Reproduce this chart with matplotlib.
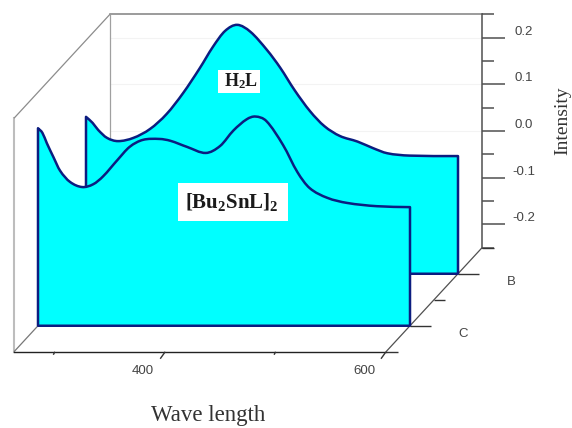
import matplotlib
matplotlib.use("Agg")
import matplotlib.pyplot as plt
from matplotlib.path import Path
from matplotlib.patches import PathPatch
from matplotlib.transforms import Affine2D

plt.rcParams["mathtext.fontset"] = "custom"
plt.rcParams["mathtext.bf"] = "Liberation Serif:bold"
plt.rcParams["mathtext.rm"] = "Liberation Serif"

# ---- data ----
wave_c = [263, 267, 271, 277, 283, 292, 303, 313, 322, 335, 346, 358, 373, 383, 398, 415, 428, 440, 452, 460, 470, 485, 498, 509, 525, 543, 570, 600]
int_c = [.173, .163, .141, .111, .082, .058, .047, .053, .070, .105, .133, .148, .150, .146, .133, .120, .135, .168, .192, .198, .188, .137, .079, .045, .024, .013, .006, .004]
wave_b = [263, 269, 274, 282, 292, 306, 321, 336, 351, 366, 378, 389, 400, 412, 427, 439, 452, 466, 479, 493, 509, 523, 536, 556, 600]
int_b = [.086, .073, .058, .041, .034, .041, .060, .092, .137, .190, .236, .270, .283, .268, .229, .191, .143, .098, .066, .045, .033, .019, .008, .003, .002]
y_major = [-0.2, -0.1, 0.0, 0.1, 0.2]
y_minor = [-0.25, -0.15, -0.05, 0.05, 0.15, 0.25]
x_major = [400, 600]
x_minor = [300, 500]
depth_labels = {1: "B", 3: "C"}
depth_major = [0, 1, 3, 4]
depth_minor = [2]
WMIN, WMAX = 263, 600
IMIN, IMAX = -0.25, 0.25

# ---- figure & scales ----
W, H = 572, 428
fig = plt.figure(figsize=(W / 100, H / 100), dpi=100, facecolor="white")
ax = fig.add_axes([0, 0, 1, 1])
k = 372 / (WMAX - WMIN)
ax.set_xlim(WMIN - 110 / k, WMIN + (W - 110) / k)
ax.set_ylim(-(H - 131) / 467, 131 / 467)
ax.axis("off")

DX, DY = -24, -26


def at(d, px=0, py=0):
    """Data transform for a depth level, with a screen offset (py down)."""
    return ax.transData + Affine2D().translate(DX * d + px, DY * d - py)


def line(x, y, d=0, dx=0, dy=0, **kw):
    """Straight line from a data point to a screen offset of it (dy down)."""
    x0, y0 = ax.transData.transform((x, y))
    x1, y1 = ax.transData.inverted().transform((x0 + dx, y0 - dy))
    ax.plot([x, x1], [y, y1], transform=at(d), solid_capstyle="butt", **kw)


def smooth_path(xs, ys):
    """Hermite curve through the read points, closed down to the baseline."""
    verts = [(xs[0], IMIN), (xs[0], ys[0])]
    codes = [Path.MOVETO, Path.LINETO]
    n = len(xs)
    for i in range(n - 1):
        x0, y0 = xs[max(i - 1, 0)], ys[max(i - 1, 0)]
        x1, y1 = xs[i], ys[i]
        x2, y2 = xs[i + 1], ys[i + 1]
        x3, y3 = xs[min(i + 2, n - 1)], ys[min(i + 2, n - 1)]
        h = x2 - x1
        m1 = (y2 - y0) / (x2 - x0)
        m2 = (y3 - y1) / (x3 - x1)
        verts += [(x1 + h / 3, y1 + m1 * h / 3),
                  (x2 - h / 3, y2 - m2 * h / 3),
                  (x2, y2)]
        codes += [Path.CURVE4] * 3
    verts += [(xs[-1], IMIN), (xs[0], IMIN), (xs[0], IMIN)]
    codes += [Path.LINETO, Path.LINETO, Path.CLOSEPOLY]
    return Path(verts, codes)


GRAY = "#808080"
DARK = "#505050"
TICKTXT = dict(family="Liberation Sans", fontsize=9.5, color="#444444", ha="center", va="center")

# faint gridlines on back wall
for v in [0.2, 0.1, 0.0]:
    ax.plot([WMIN, WMAX], [v, v], color="#f3f3f3", lw=0.8, zorder=1)

# walls
ax.plot([WMIN, WMAX], [IMAX, IMAX], color=GRAY, lw=1.1, zorder=2)
ax.plot([WMIN, WMIN], [IMIN, IMAX], color="#a0a0a0", lw=0.9, zorder=2)
ax.plot([WMIN, WMIN], [IMIN, IMAX], color="#bdbdbd", lw=1.5, zorder=2, transform=at(4))
ax.plot([WMAX, WMAX], [IMIN, IMAX], color=DARK, lw=1.1, zorder=2)

# edges along depth
for w, v, col in [(WMIN, IMAX, "#8c8c8c"), (WMIN, IMIN, "#777777"), (WMAX, IMIN, DARK)]:
    line(w, v, dx=DX * 4, dy=-DY * 4, color=col, lw=0.9, zorder=2)

# series
for d, xs, ys in [(1, wave_b, int_b), (3, wave_c, int_c)]:
    ax.add_patch(PathPatch(smooth_path(xs, ys), facecolor="#00FFFF", edgecolor="#0c1d80",
                           lw=1.8, joinstyle="round", transform=at(d), zorder=3 + d))

# front bottom axis
ax.plot([WMIN, WMAX], [IMIN, IMIN], color="#222222", lw=1.0, transform=at(4), zorder=9)

# x ticks (slanted into the depth direction)
for w in x_major:
    line(w, IMIN, d=4, dx=-5, dy=7, color="#333333", lw=1.0, zorder=9)
    ax.text(w, IMIN, str(w), transform=at(4, -22, 19), **TICKTXT)
for w in x_minor:
    line(w, IMIN, d=4, dx=-1.5, dy=3, color="#333333", lw=1.0, zorder=9)

# y ticks (right side)
for v in y_major:
    line(WMAX, v, dx=23, color=DARK, lw=1.1, zorder=2)
    ax.text(WMAX, v, f"{v:.1f}", transform=at(0, 42, -6), **TICKTXT)
for v in y_minor:
    line(WMAX, v, dx=12, color=DARK, lw=1.1, zorder=2)

# depth ticks
for d in depth_major:
    line(WMAX, IMIN, d=d, dx=12 if d in (0, 4) else 21, color="#333333", lw=1.0, zorder=9)
for d in depth_minor:
    line(WMAX, IMIN, d=d, dx=11, color="#333333", lw=1.0, zorder=9)
for d, lab in depth_labels.items():
    ax.text(WMAX, IMIN, lab, transform=at(d, 53, 8), **TICKTXT)


def fx(p):
    return p / W


def fy(p):
    return 1 - p / H


fig.text(fx(208), fy(416), "Wave length", family="Liberation Serif", fontsize=16.5,
         ha="center", va="center", color="#333333")
fig.text(fx(563), fy(121), "Intensity", family="Liberation Serif", fontsize=14, rotation=90,
         ha="center", va="center", color="#333333")

for cx, cy, bw, bh, s, fs, tx in [(239, 81.5, 42, 23, r"$\mathbf{H_2L}$", 13, 241),
                                  (233, 202, 110, 38, r"$\mathbf{[Bu_2SnL]_2}$", 15, 232)]:
    ax.add_patch(plt.Rectangle((fx(cx - bw / 2), fy(cy + bh / 2)), bw / W, bh / H,
                               transform=fig.transFigure, facecolor="white", edgecolor="none", zorder=10))
    ax.text(fx(tx), fy(cy), s, transform=fig.transFigure, ha="center", va="center",
            color="#1a1a1a", fontsize=fs, zorder=11)

fig.savefig("out.png", dpi=100)
